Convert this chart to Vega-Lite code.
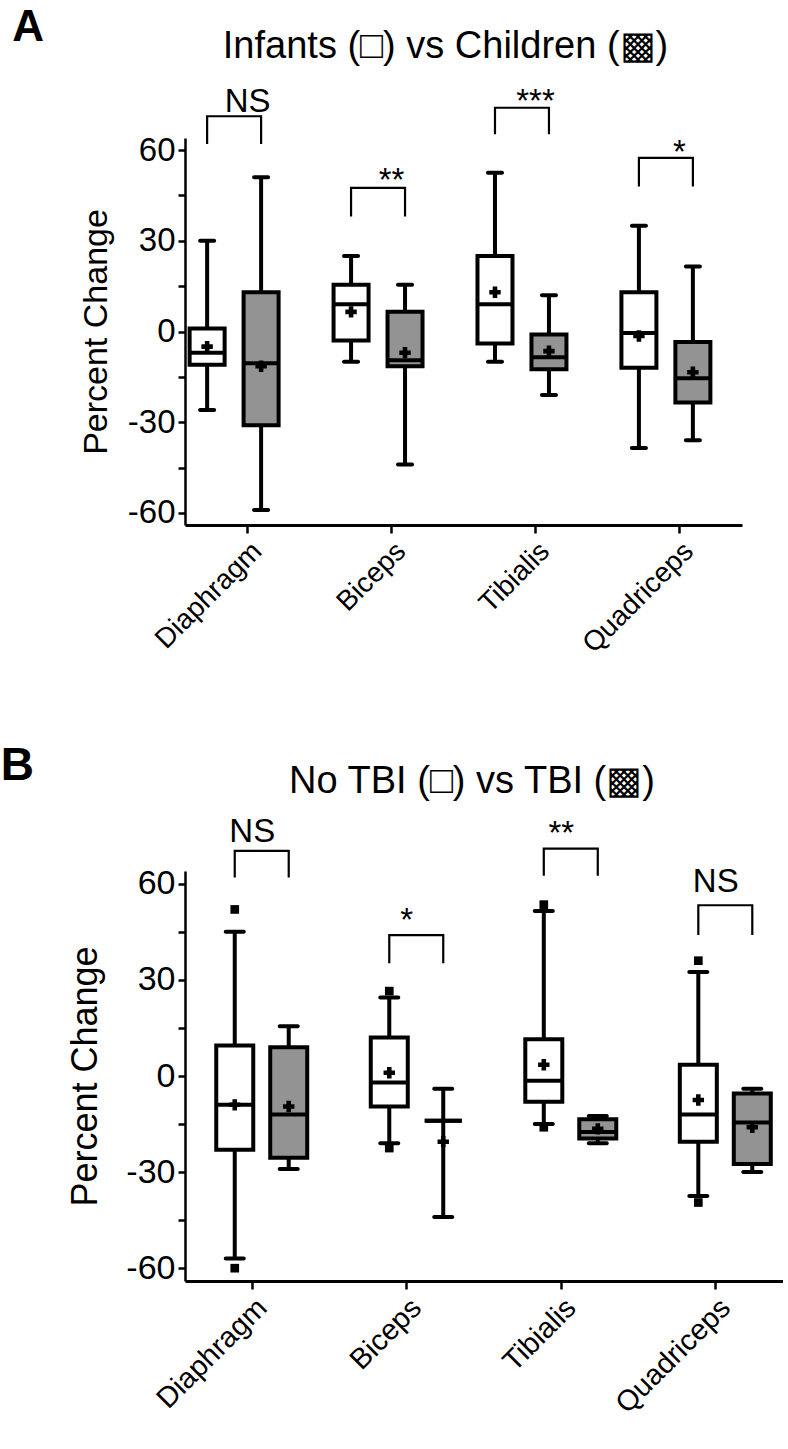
{
  "$schema": "https://vega.github.io/schema/vega-lite/v6.json",
  "background": "white",
  "padding": {"left": 0, "top": 5, "right": 0, "bottom": 0},
  "spacing": 84,
  "datasets": {
    "boxA": [
      {"muscle": "Diaphragm", "group": "Infants", "lo": -26, "q1": -11, "med": -7, "q3": 1, "hi": 30, "mean": -5},
      {"muscle": "Diaphragm", "group": "Children", "lo": -59, "q1": -31, "med": -10.5, "q3": 13, "hi": 51, "mean": -11.5},
      {"muscle": "Biceps", "group": "Infants", "lo": -10, "q1": -3, "med": 9, "q3": 15.5, "hi": 25, "mean": 6.5},
      {"muscle": "Biceps", "group": "Children", "lo": -44, "q1": -11.5, "med": -9.5, "q3": 6.5, "hi": 15.5, "mean": -7},
      {"muscle": "Tibialis", "group": "Infants", "lo": -10, "q1": -4, "med": 9, "q3": 25, "hi": 52.5, "mean": 13},
      {"muscle": "Tibialis", "group": "Children", "lo": -21, "q1": -12.5, "med": -8.5, "q3": -1, "hi": 12, "mean": -6.5},
      {"muscle": "Quadriceps", "group": "Infants", "lo": -38.5, "q1": -12, "med": -0.5, "q3": 13, "hi": 35, "mean": -1.5},
      {"muscle": "Quadriceps", "group": "Children", "lo": -36, "q1": -23.5, "med": -15.5, "q3": -3.5, "hi": 21.5, "mean": -13.5}
    ],
    "boxB": [
      {"muscle": "Diaphragm", "group": "No TBI", "lo": -57, "q1": -23, "med": -9, "q3": 9.5, "hi": 45, "mean": -9},
      {"muscle": "Diaphragm", "group": "TBI", "lo": -29, "q1": -25.5, "med": -12, "q3": 9, "hi": 15.5, "mean": -9.5},
      {"muscle": "Biceps", "group": "No TBI", "lo": -21, "q1": -9.5, "med": -2, "q3": 12, "hi": 24.5, "mean": 1},
      {"muscle": "Biceps", "group": "TBI", "lo": -44, "q1": -14, "med": -14, "q3": -14, "hi": -4, "mean": -20.5},
      {"muscle": "Tibialis", "group": "No TBI", "lo": -15, "q1": -8, "med": -1.5, "q3": 11.5, "hi": 51.5, "mean": 3.5},
      {"muscle": "Tibialis", "group": "TBI", "lo": -21, "q1": -19.5, "med": -17.5, "q3": -13.5, "hi": -12.5, "mean": -16.5},
      {"muscle": "Quadriceps", "group": "No TBI", "lo": -37.5, "q1": -20.5, "med": -12, "q3": 3.5, "hi": 32.5, "mean": -7.5},
      {"muscle": "Quadriceps", "group": "TBI", "lo": -30, "q1": -27.5, "med": -14.5, "q3": -5.5, "hi": -4, "mean": -16}
    ],
    "outB": [
      {"muscle": "Diaphragm", "group": "No TBI", "value": 52},
      {"muscle": "Diaphragm", "group": "No TBI", "value": -60},
      {"muscle": "Biceps", "group": "No TBI", "value": 26.5},
      {"muscle": "Biceps", "group": "No TBI", "value": -22.5},
      {"muscle": "Tibialis", "group": "No TBI", "value": 53.5},
      {"muscle": "Tibialis", "group": "No TBI", "value": -16},
      {"muscle": "Quadriceps", "group": "No TBI", "value": 36},
      {"muscle": "Quadriceps", "group": "No TBI", "value": -39.5}
    ],
    "brA": [
      {"muscle": "Diaphragm", "group": "Infants", "k": 1, "y": 62},
      {"muscle": "Diaphragm", "group": "Infants", "k": 2, "y": 71.2},
      {"muscle": "Diaphragm", "group": "Children", "k": 3, "y": 71.2},
      {"muscle": "Diaphragm", "group": "Children", "k": 4, "y": 62},
      {"muscle": "Biceps", "group": "Infants", "k": 1, "y": 38},
      {"muscle": "Biceps", "group": "Infants", "k": 2, "y": 47.5},
      {"muscle": "Biceps", "group": "Children", "k": 3, "y": 47.5},
      {"muscle": "Biceps", "group": "Children", "k": 4, "y": 38},
      {"muscle": "Tibialis", "group": "Infants", "k": 1, "y": 65.2},
      {"muscle": "Tibialis", "group": "Infants", "k": 2, "y": 74},
      {"muscle": "Tibialis", "group": "Children", "k": 3, "y": 74},
      {"muscle": "Tibialis", "group": "Children", "k": 4, "y": 65.2},
      {"muscle": "Quadriceps", "group": "Infants", "k": 1, "y": 48},
      {"muscle": "Quadriceps", "group": "Infants", "k": 2, "y": 57.4},
      {"muscle": "Quadriceps", "group": "Children", "k": 3, "y": 57.4},
      {"muscle": "Quadriceps", "group": "Children", "k": 4, "y": 48}
    ],
    "brB": [
      {"muscle": "Diaphragm", "group": "No TBI", "k": 1, "y": 62},
      {"muscle": "Diaphragm", "group": "No TBI", "k": 2, "y": 70.3},
      {"muscle": "Diaphragm", "group": "TBI", "k": 3, "y": 70.3},
      {"muscle": "Diaphragm", "group": "TBI", "k": 4, "y": 62},
      {"muscle": "Biceps", "group": "No TBI", "k": 1, "y": 35.2},
      {"muscle": "Biceps", "group": "No TBI", "k": 2, "y": 44},
      {"muscle": "Biceps", "group": "TBI", "k": 3, "y": 44},
      {"muscle": "Biceps", "group": "TBI", "k": 4, "y": 35.2},
      {"muscle": "Tibialis", "group": "No TBI", "k": 1, "y": 62.5},
      {"muscle": "Tibialis", "group": "No TBI", "k": 2, "y": 71},
      {"muscle": "Tibialis", "group": "TBI", "k": 3, "y": 71},
      {"muscle": "Tibialis", "group": "TBI", "k": 4, "y": 62.5},
      {"muscle": "Quadriceps", "group": "No TBI", "k": 1, "y": 44},
      {"muscle": "Quadriceps", "group": "No TBI", "k": 2, "y": 53.3},
      {"muscle": "Quadriceps", "group": "TBI", "k": 3, "y": 53.3},
      {"muscle": "Quadriceps", "group": "TBI", "k": 4, "y": 44}
    ],
    "lblA": [
      {"muscle": "Diaphragm", "label": "NS", "y": 72.6},
      {"muscle": "Biceps", "label": "**", "y": 46.4},
      {"muscle": "Tibialis", "label": "***", "y": 72.6},
      {"muscle": "Quadriceps", "label": "*", "y": 55.8}
    ],
    "lblB": [
      {"muscle": "Diaphragm", "label": "NS", "y": 73},
      {"muscle": "Biceps", "label": "*", "y": 45.3},
      {"muscle": "Tibialis", "label": "**", "y": 72.3},
      {"muscle": "Quadriceps", "label": "NS", "y": 57.4}
    ]
  },
  "vconcat": [
    {
      "title": {"text": "A", "anchor": "start", "fontSize": 44, "fontWeight": "bold", "dx": -67, "offset": -22},
      "vconcat": [
        {
          "title": {"text": "Infants (□) vs Children (▩)", "fontSize": 38, "frame": "group", "anchor": "middle", "dx": -18, "offset": 20},
          "width": 557,
          "height": 387,
          "layer": [
            {
              "mark": {"type": "rule", "color": "#8a8a8a", "strokeWidth": 4},
              "encoding": {"y": {"datum": 0, "type": "quantitative", "scale": {"domain": [-64, 64], "nice": false, "zero": false}, "axis": {"title": "Percent Change", "titleFontSize": 34, "titlePadding": 14, "labelFontSize": 33, "labelPadding": 3, "tickSize": 7, "tickWidth": 2.5, "domainWidth": 2.5, "values": [-60, -45, -30, -15, 0, 15, 30, 45, 60], "labelExpr": "datum.value % 30 === 0 ? '' + datum.value : ''"}}}
            },
            {
              "mark": {"type": "rule", "color": "#f01010", "strokeWidth": 5, "strokeDash": [14, 11], "strokeCap": "round"},
              "encoding": {"y": {"datum": -10, "type": "quantitative"}}
            },
            {
              "data": {"name": "boxA"},
              "mark": {"type": "rule", "color": "black", "strokeWidth": 4},
              "encoding": {
                "x": {"field": "muscle", "type": "nominal", "sort": ["Diaphragm", "Biceps", "Tibialis", "Quadriceps"], "scale": {"paddingInner": 0.25, "paddingOuter": 0.06}, "axis": {"title": null, "labelAngle": -45, "labelFontSize": 28, "tickSize": 8, "tickWidth": 2.5, "domainWidth": 3, "labelPadding": 4}},
                "xOffset": {"field": "group", "type": "nominal", "sort": ["Infants", "Children"], "scale": {"paddingInner": 0, "paddingOuter": 0}},
                "y": {"field": "lo", "type": "quantitative"},
                "y2": {"field": "hi"}
              }
            },
            {
              "data": {"name": "boxA"},
              "mark": {"type": "bar", "width": 35, "stroke": "black", "strokeWidth": 4},
              "encoding": {
                "x": {"field": "muscle", "type": "nominal", "sort": ["Diaphragm", "Biceps", "Tibialis", "Quadriceps"]},
                "xOffset": {"field": "group", "type": "nominal", "sort": ["Infants", "Children"]},
                "y": {"field": "q1", "type": "quantitative"},
                "y2": {"field": "q3"},
                "fill": {"field": "group", "type": "nominal", "scale": {"domain": ["Infants", "Children"], "range": ["white", "#939393"]}, "legend": null}
              }
            },
            {
              "data": {"name": "boxA"},
              "mark": {"type": "tick", "color": "black", "opacity": 1, "thickness": 4, "size": 35},
              "encoding": {
                "x": {"field": "muscle", "type": "nominal", "sort": ["Diaphragm", "Biceps", "Tibialis", "Quadriceps"]},
                "xOffset": {"field": "group", "type": "nominal", "sort": ["Infants", "Children"]},
                "y": {"field": "med", "type": "quantitative"}
              }
            },
            {
              "data": {"name": "boxA"},
              "mark": {"type": "tick", "color": "black", "opacity": 1, "thickness": 4, "size": 18, "cornerRadius": 2},
              "encoding": {
                "x": {"field": "muscle", "type": "nominal", "sort": ["Diaphragm", "Biceps", "Tibialis", "Quadriceps"]},
                "xOffset": {"field": "group", "type": "nominal", "sort": ["Infants", "Children"]},
                "y": {"field": "hi", "type": "quantitative"}
              }
            },
            {
              "data": {"name": "boxA"},
              "mark": {"type": "tick", "color": "black", "opacity": 1, "thickness": 4, "size": 18, "cornerRadius": 2},
              "encoding": {
                "x": {"field": "muscle", "type": "nominal", "sort": ["Diaphragm", "Biceps", "Tibialis", "Quadriceps"]},
                "xOffset": {"field": "group", "type": "nominal", "sort": ["Infants", "Children"]},
                "y": {"field": "lo", "type": "quantitative"}
              }
            },
            {
              "data": {"name": "boxA"},
              "mark": {"type": "point", "shape": "cross", "filled": true, "color": "black", "size": 130, "opacity": 1},
              "encoding": {
                "x": {"field": "muscle", "type": "nominal", "sort": ["Diaphragm", "Biceps", "Tibialis", "Quadriceps"]},
                "xOffset": {"field": "group", "type": "nominal", "sort": ["Infants", "Children"]},
                "y": {"field": "mean", "type": "quantitative"}
              }
            },
            {
              "data": {"name": "brA"},
              "mark": {"type": "line", "color": "black", "strokeWidth": 2.2},
              "encoding": {
                "x": {"field": "muscle", "type": "nominal", "sort": ["Diaphragm", "Biceps", "Tibialis", "Quadriceps"]},
                "xOffset": {"field": "group", "type": "nominal", "sort": ["Infants", "Children"]},
                "y": {"field": "y", "type": "quantitative"},
                "detail": {"field": "muscle"},
                "order": {"field": "k", "type": "quantitative"}
              }
            },
            {
              "data": {"name": "lblA"},
              "mark": {"type": "text", "fontSize": 33, "baseline": "alphabetic", "color": "black"},
              "encoding": {
                "x": {"field": "muscle", "type": "nominal", "sort": ["Diaphragm", "Biceps", "Tibialis", "Quadriceps"]},
                "y": {"field": "y", "type": "quantitative"},
                "text": {"field": "label"}
              }
            }
          ]
        }
      ]
    },
    {
      "title": {"text": "B", "anchor": "start", "fontSize": 46, "fontWeight": "bold", "dx": -67, "offset": -27},
      "vconcat": [
        {
          "title": {"text": "No TBI (□) vs TBI (▩)", "fontSize": 38, "frame": "group", "anchor": "middle", "dx": -12, "offset": 15},
          "width": 598,
          "height": 410,
          "layer": [
            {
              "mark": {"type": "rule", "color": "#8a8a8a", "strokeWidth": 4},
              "encoding": {"y": {"datum": 0, "type": "quantitative", "scale": {"domain": [-64, 64], "nice": false, "zero": false}, "axis": {"title": "Percent Change", "titleFontSize": 36, "titlePadding": 21, "labelFontSize": 34, "labelPadding": 3, "tickSize": 7, "tickWidth": 2.5, "domainWidth": 2.5, "values": [-60, -45, -30, -15, 0, 15, 30, 45, 60], "labelExpr": "datum.value % 30 === 0 ? '' + datum.value : ''"}}}
            },
            {
              "mark": {"type": "rule", "color": "#f01010", "strokeWidth": 5, "strokeDash": [14, 11], "strokeCap": "round"},
              "encoding": {"y": {"datum": -10, "type": "quantitative"}}
            },
            {
              "data": {"name": "boxB"},
              "mark": {"type": "rule", "color": "black", "strokeWidth": 4},
              "encoding": {
                "x": {"field": "muscle", "type": "nominal", "sort": ["Diaphragm", "Biceps", "Tibialis", "Quadriceps"], "scale": {"paddingInner": 0.25, "paddingOuter": 0.06}, "axis": {"title": null, "labelAngle": -45, "labelFontSize": 29, "tickSize": 8, "tickWidth": 2.5, "domainWidth": 3, "labelPadding": 4}},
                "xOffset": {"field": "group", "type": "nominal", "sort": ["No TBI", "TBI"], "scale": {"paddingInner": 0, "paddingOuter": 0}},
                "y": {"field": "lo", "type": "quantitative"},
                "y2": {"field": "hi"}
              }
            },
            {
              "data": {"name": "boxB"},
              "mark": {"type": "bar", "width": 37, "stroke": "black", "strokeWidth": 4},
              "encoding": {
                "x": {"field": "muscle", "type": "nominal", "sort": ["Diaphragm", "Biceps", "Tibialis", "Quadriceps"]},
                "xOffset": {"field": "group", "type": "nominal", "sort": ["No TBI", "TBI"]},
                "y": {"field": "q1", "type": "quantitative"},
                "y2": {"field": "q3"},
                "fill": {"field": "group", "type": "nominal", "scale": {"domain": ["No TBI", "TBI"], "range": ["white", "#939393"]}, "legend": null}
              }
            },
            {
              "data": {"name": "boxB"},
              "mark": {"type": "tick", "color": "black", "opacity": 1, "thickness": 4, "size": 37},
              "encoding": {
                "x": {"field": "muscle", "type": "nominal", "sort": ["Diaphragm", "Biceps", "Tibialis", "Quadriceps"]},
                "xOffset": {"field": "group", "type": "nominal", "sort": ["No TBI", "TBI"]},
                "y": {"field": "med", "type": "quantitative"}
              }
            },
            {
              "data": {"name": "boxB"},
              "mark": {"type": "tick", "color": "black", "opacity": 1, "thickness": 4, "size": 22, "cornerRadius": 2},
              "encoding": {
                "x": {"field": "muscle", "type": "nominal", "sort": ["Diaphragm", "Biceps", "Tibialis", "Quadriceps"]},
                "xOffset": {"field": "group", "type": "nominal", "sort": ["No TBI", "TBI"]},
                "y": {"field": "hi", "type": "quantitative"}
              }
            },
            {
              "data": {"name": "boxB"},
              "mark": {"type": "tick", "color": "black", "opacity": 1, "thickness": 4, "size": 22, "cornerRadius": 2},
              "encoding": {
                "x": {"field": "muscle", "type": "nominal", "sort": ["Diaphragm", "Biceps", "Tibialis", "Quadriceps"]},
                "xOffset": {"field": "group", "type": "nominal", "sort": ["No TBI", "TBI"]},
                "y": {"field": "lo", "type": "quantitative"}
              }
            },
            {
              "data": {"name": "boxB"},
              "mark": {"type": "point", "shape": "cross", "filled": true, "color": "black", "size": 130, "opacity": 1},
              "encoding": {
                "x": {"field": "muscle", "type": "nominal", "sort": ["Diaphragm", "Biceps", "Tibialis", "Quadriceps"]},
                "xOffset": {"field": "group", "type": "nominal", "sort": ["No TBI", "TBI"]},
                "y": {"field": "mean", "type": "quantitative"}
              }
            },
            {
              "data": {"name": "outB"},
              "mark": {"type": "point", "shape": "square", "filled": true, "color": "black", "size": 75, "opacity": 1},
              "encoding": {
                "x": {"field": "muscle", "type": "nominal", "sort": ["Diaphragm", "Biceps", "Tibialis", "Quadriceps"]},
                "xOffset": {"field": "group", "type": "nominal", "sort": ["No TBI", "TBI"]},
                "y": {"field": "value", "type": "quantitative"}
              }
            },
            {
              "data": {"name": "brB"},
              "mark": {"type": "line", "color": "black", "strokeWidth": 2.2},
              "encoding": {
                "x": {"field": "muscle", "type": "nominal", "sort": ["Diaphragm", "Biceps", "Tibialis", "Quadriceps"]},
                "xOffset": {"field": "group", "type": "nominal", "sort": ["No TBI", "TBI"]},
                "y": {"field": "y", "type": "quantitative"},
                "detail": {"field": "muscle"},
                "order": {"field": "k", "type": "quantitative"}
              }
            },
            {
              "data": {"name": "lblB"},
              "mark": {"type": "text", "fontSize": 33, "baseline": "alphabetic", "color": "black"},
              "encoding": {
                "x": {"field": "muscle", "type": "nominal", "sort": ["Diaphragm", "Biceps", "Tibialis", "Quadriceps"]},
                "y": {"field": "y", "type": "quantitative"},
                "text": {"field": "label"}
              }
            }
          ]
        }
      ]
    }
  ],
  "config": {
    "view": {"stroke": null},
    "font": "Liberation Sans",
    "axis": {"domainColor": "black", "tickColor": "black", "labelColor": "black", "titleColor": "black", "grid": false, "labelFont": "Liberation Sans", "titleFont": "Liberation Sans", "titleFontWeight": "normal"},
    "title": {"color": "black", "font": "Liberation Sans", "fontWeight": "normal"},
    "text": {"font": "Liberation Sans"}
  }
}
